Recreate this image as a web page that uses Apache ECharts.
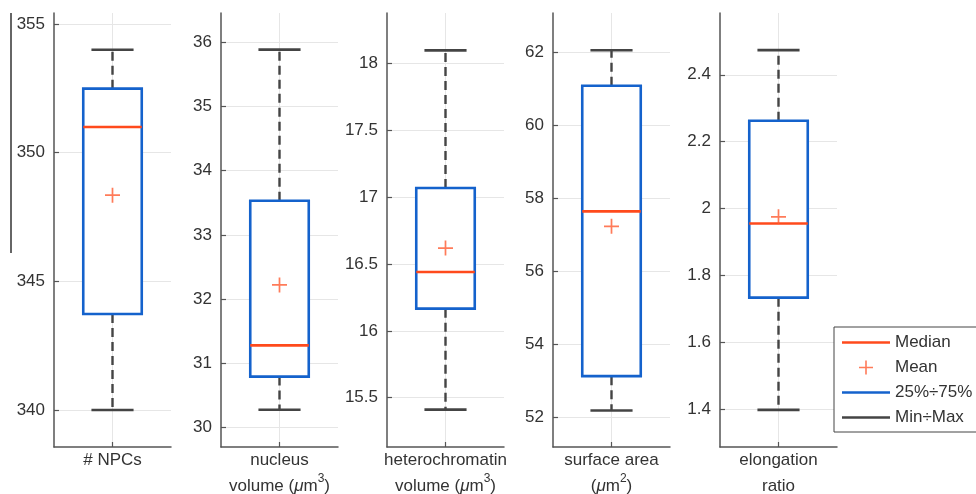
<!DOCTYPE html>
<html>
<head>
<meta charset="utf-8">
<script src="https://cdn.jsdelivr.net/npm/echarts@6/dist/echarts.min.js"></script>
<style>
    html, body { margin: 0; padding: 0; background: #fff; }
    #chart { width: 976px; height: 494px; }
</style>
</head>
<body>
<div id="chart"></div>
<script>
    // one panel per measured quantity
    const labels = [
        "# NPCs",
        "nucleus\nvolume ({mu|μ}m{sup|3})",
        "heterochromatin\nvolume ({mu|μ}m{sup|3})",
        "surface area\n({mu|μ}m{sup|2})",
        "elongation\nratio"
    ];
    const minVals = [340, 30.28, 15.41, 52.19, 1.397];
    const q1Vals = [343.73, 30.795, 16.166, 53.13, 1.733];
    const medianVals = [351.0, 31.28, 16.44, 57.64, 1.955];
    const meanVals = [348.35, 32.22, 16.62, 57.23, 1.975];
    const q3Vals = [352.49, 33.53, 17.07, 61.08, 2.2625];
    const maxVals = [354.0, 35.88, 18.10, 62.05, 2.474];

    const yLow = [338.56, 29.70, 15.13, 51.19, 1.286];
    const yHigh = [355.43, 36.45, 18.38, 63.07, 2.585];
    const yTicks = [
        [340, 345, 350, 355],
        [30, 31, 32, 33, 34, 35, 36],
        [15.5, 16, 16.5, 17, 17.5, 18],
        [52, 54, 56, 58, 60, 62],
        [1.4, 1.6, 1.8, 2, 2.2, 2.4]
    ];

    const legendNames = ["Median", "Mean", "25%÷75%", "Min÷Max"];

    const colors = {
        median: "#ff4a1c",
        mean: "#ff5a30",
        box: "#1462cc",
        range: "#444444",
        axis: "#555555",
        grid: "#e6e6e6",
        text: "#333333"
    };

    const gridLefts = [54, 221, 387, 553, 720];
    const gridWidth = 117;
    const fontFamily = "Liberation Sans, Arial, Helvetica, sans-serif";
    const linePath = "path://M0,0H48V2.6H0Z";
    const plusPath = "path://M0,6.2H14V7.8H0Z M6.2,0H7.8V14H6.2Z";

    const chart = echarts.init(document.getElementById("chart"), null, { renderer: "canvas" });

    const grids = [];
    const xAxes = [];
    const yAxes = [];
    const series = [];

    const formatTick = (value) => String(+Number(value).toFixed(4));

    labels.forEach((label, i) => {
        grids.push({ left: gridLefts[i], width: gridWidth, top: 13, bottom: 47, outerBoundsMode: "none", containLabel: false });

        xAxes.push({
            type: "value",
            gridIndex: i,
            min: -0.5,
            max: 0.5,
            axisLine: { show: true, onZero: false, lineStyle: { color: colors.axis, width: 1.5 } },
            axisTick: { show: true, inside: true, length: 5, customValues: [0], lineStyle: { color: colors.axis, width: 1.2 } },
            splitLine: { show: true, lineStyle: { color: colors.grid, width: 1 } },
            axisLabel: {
                customValues: [0],
                margin: 0,
                color: colors.text,
                fontFamily,
                fontSize: 17,
                lineHeight: 26,
                formatter: () => label,
                rich: {
                    mu: { fontStyle: "italic", fontFamily, fontSize: 17, color: colors.text, lineHeight: 26 },
                    sup: { fontFamily, fontSize: 12, color: colors.text, lineHeight: 14, verticalAlign: "top" }
                }
            }
        });

        yAxes.push({
            type: "value",
            gridIndex: i,
            min: yLow[i],
            max: yHigh[i],
            axisLine: { show: true, onZero: false, lineStyle: { color: colors.axis, width: 1.5 } },
            axisTick: { show: true, inside: true, length: 5, customValues: yTicks[i], lineStyle: { color: colors.axis, width: 1.2 } },
            splitLine: { show: true, lineStyle: { color: colors.grid, width: 1 } },
            axisLabel: {
                customValues: yTicks[i],
                margin: 9,
                color: colors.text,
                fontFamily,
                fontSize: 17,
                formatter: formatTick
            }
        });

        series.push({
            name: "Min÷Max",
            type: "custom",
            xAxisIndex: i,
            yAxisIndex: i,
            clip: false,
            itemStyle: { color: colors.range },
            encode: { x: 0, y: [1, 2, 3, 4] },
            data: [[0, minVals[i], q1Vals[i], q3Vals[i], maxVals[i]]],
            renderItem(params, api) {
                const low = api.coord([0, api.value(1)]);
                const q1 = api.coord([0, api.value(2)]);
                const q3 = api.coord([0, api.value(3)]);
                const high = api.coord([0, api.value(4)]);
                const half = api.size([0.36, 0])[0] / 2;
                const dashed = { stroke: colors.range, lineWidth: 2.4, lineDash: [9, 5] };
                const solid = { stroke: colors.range, lineWidth: 2.6 };
                return {
                    type: "group",
                    children: [
                        { type: "line", shape: { x1: q3[0], y1: q3[1], x2: high[0], y2: high[1] }, style: dashed },
                        { type: "line", shape: { x1: q1[0], y1: q1[1], x2: low[0], y2: low[1] }, style: dashed },
                        { type: "line", shape: { x1: high[0] - half, y1: high[1], x2: high[0] + half, y2: high[1] }, style: solid },
                        { type: "line", shape: { x1: low[0] - half, y1: low[1], x2: low[0] + half, y2: low[1] }, style: solid }
                    ]
                };
            }
        });

        series.push({
            name: "25%÷75%",
            type: "custom",
            xAxisIndex: i,
            yAxisIndex: i,
            clip: false,
            z: 3,
            itemStyle: { color: colors.box },
            encode: { x: 0, y: [1, 2] },
            data: [[0, q1Vals[i], q3Vals[i]]],
            renderItem(params, api) {
                const bottom = api.coord([0, api.value(1)]);
                const top = api.coord([0, api.value(2)]);
                const width = api.size([0.5, 0])[0];
                return {
                    type: "rect",
                    shape: { x: top[0] - width / 2, y: top[1], width, height: bottom[1] - top[1] },
                    style: { fill: "#ffffff", stroke: colors.box, lineWidth: 2.6 }
                };
            }
        });

        series.push({
            name: "Median",
            type: "custom",
            xAxisIndex: i,
            yAxisIndex: i,
            clip: false,
            z: 4,
            itemStyle: { color: colors.median },
            encode: { x: 0, y: 1 },
            data: [[0, medianVals[i]]],
            renderItem(params, api) {
                const mid = api.coord([0, api.value(1)]);
                const half = api.size([0.5, 0])[0] / 2;
                return {
                    type: "line",
                    shape: { x1: mid[0] - half, y1: mid[1], x2: mid[0] + half, y2: mid[1] },
                    style: { stroke: colors.median, lineWidth: 2.6 }
                };
            }
        });

        series.push({
            name: "Mean",
            type: "scatter",
            xAxisIndex: i,
            yAxisIndex: i,
            z: 5,
            symbol: plusPath,
            symbolSize: 15,
            itemStyle: { color: colors.mean },
            data: [[0, meanVals[i]]]
        });
    });

    const legendStyles = {
        "Median": { icon: linePath, color: colors.median },
        "Mean": { icon: plusPath, color: colors.mean },
        "25%÷75%": { icon: linePath, color: colors.box },
        "Min÷Max": { icon: linePath, color: colors.range }
    };

    chart.setOption({
        animation: false,
        backgroundColor: "#ffffff",
        grid: grids,
        xAxis: xAxes,
        yAxis: yAxes,
        legend: {
            orient: "vertical",
            left: 834,
            top: 327,
            padding: [7, 8, 6, 8],
            itemWidth: 48,
            itemHeight: 14,
            itemGap: 8,
            selectedMode: false,
            backgroundColor: "#ffffff",
            borderColor: "#444444",
            borderWidth: 1,
            textStyle: { color: colors.text, fontFamily, fontSize: 17 },
            data: legendNames.map((name) => ({
                name,
                icon: legendStyles[name].icon,
                itemStyle: { color: legendStyles[name].color, borderWidth: 0 }
            }))
        },
        graphic: [
            {
                type: "line",
                shape: { x1: 11, y1: 13, x2: 11, y2: 253 },
                style: { stroke: "#666666", lineWidth: 2 }
            }
        ],
        series
    });
</script>
</body>
</html>
